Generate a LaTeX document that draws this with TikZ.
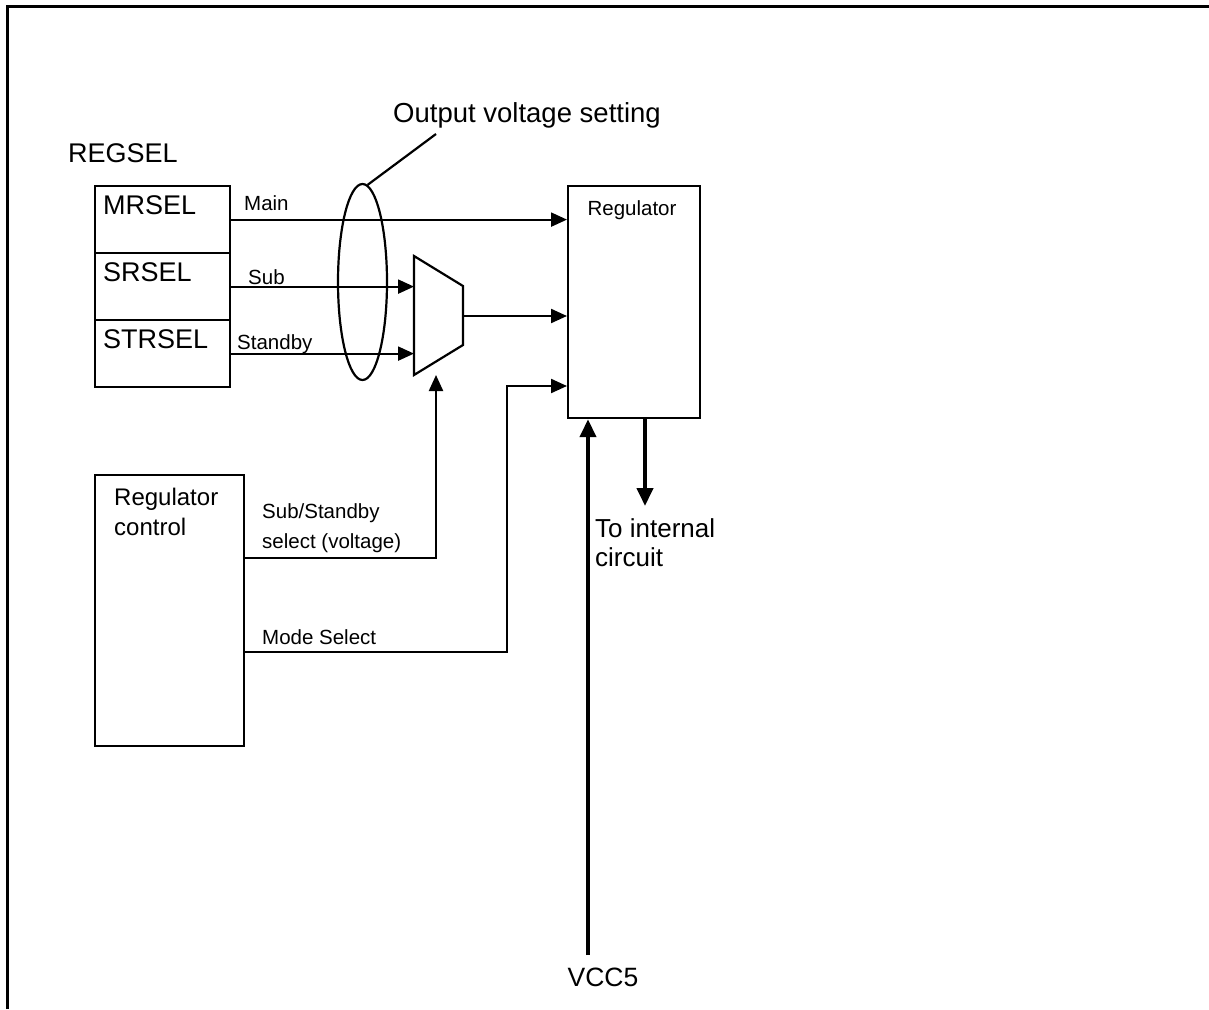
\documentclass[tikz,border=0pt]{standalone}
\usepackage{fontspec}
\setmainfont{Liberation Sans}
\usetikzlibrary{arrows.meta,shapes.geometric}
\begin{document}
\begin{tikzpicture}[x=1pt,y=-1pt,
  box/.style={draw,line width=2.2pt,inner sep=0pt,minimum width=#1},
  arr/.style={line width=2.2pt,-{Triangle[length=16pt,width=14pt]}},
  thickarr/.style={line width=4pt,-{Triangle[length=18pt,width=16pt]}},
  wire/.style={line width=2.2pt},
  big/.style={font=\fontsize{27}{31}\selectfont,inner sep=0pt},
  mid/.style={font=\fontsize{24}{30}\selectfont,inner sep=0pt},
  small/.style={font=\fontsize{20.5}{30}\selectfont,inner sep=0pt}]
\useasboundingbox[fill=white] (0,0) rectangle (1209,1009);
% frame
\draw[line width=3pt] (7,1009) -- (7,6) -- (1209,6);
% REGSEL block
\node[big,anchor=base west] (regsel) at (68,162) {REGSEL};
\node[box=135pt,minimum height=67pt,anchor=north west] (mrsel) at (94,185) {};
\node[box=135pt,minimum height=67pt,anchor=north west] (srsel) at (94,252) {};
\node[box=135pt,minimum height=67pt,anchor=north west] (strsel) at (94,319) {};
\node[big,anchor=base west] (tm) at (103,214) {MRSEL};
\node[big,anchor=base west] (ts) at (103,281) {SRSEL};
\node[big,anchor=base west] (tst) at (103,348) {STRSEL};
% Regulator
\node[box=132pt,minimum height=232pt,anchor=north west] (reg) at (567,185) {};
\node[small,anchor=base] (regt) at (632,215) {Regulator};
% Mux
\coordinate (m1) at (414,256);
\coordinate (m2) at (463,286);
\coordinate (m3) at (463,345);
\coordinate (m4) at (414,375);
\draw[wire,line join=miter] (m1) -- (m2) -- (m3) -- (m4) -- cycle;
\coordinate (msub) at (414,286);
\coordinate (mstb) at (414,352);
\coordinate (mout) at (463,316);
\coordinate (mbot) at (436,375);
% arrows from REGSEL
\draw[arr] (mrsel.east) -- (mrsel.east -| reg.west);
\draw[arr] (srsel.east) -- (srsel.east -| msub);
\draw[arr] (strsel.east) -- (strsel.east -| mstb);
\draw[arr] (mout) -- (mout -| reg.west);
\node[small,anchor=base west] (lmain) at (244,210) {Main};
\node[small,anchor=base west] (lsub) at (248,284) {Sub};
\node[small,anchor=base west] (lstb) at (237,349) {Standby};
% ellipse and leader
\node[draw,wire,ellipse,minimum width=49pt,minimum height=196pt,inner sep=0pt] (ell) at (362.5,282) {};
\coordinate (lead) at (436,134);
\draw[wire] (ell.87) -- (lead);
\node[font=\fontsize{27.5}{31}\selectfont,inner sep=0pt,anchor=base] (ovs) at (527,122) {Output voltage setting};
% Regulator control
\node[box=149pt,minimum height=271pt,anchor=north west] (rc) at (94,474) {};
\node[mid,anchor=base west,align=left] (rct) at (114,535) {Regulator\\control};
\coordinate (c1) at (243,558);
\coordinate (c2) at (243,652);
\coordinate (k1) at (507,652);
\coordinate (k2) at (507,386);
\draw[arr] (c1) -- (c1 -| mbot) -- (mbot);
\draw[arr] (c2) -- (k1) -- (k2) -- (k2 -| reg.west);
\node[small,anchor=base west,align=left] (lsel) at (262,548) {Sub/Standby\\select (voltage)};
\node[small,anchor=base west] (lmode) at (262,644) {Mode Select};
% VCC5 and output
\node[font=\fontsize{26.5}{31}\selectfont,inner sep=0pt,anchor=base] (vcc) at (603,986) {VCC5};
\coordinate (vtop) at (588,955);
\draw[thickarr] (vtop) -- (vtop |- reg.south);
\coordinate (oout) at (645,506);
\draw[thickarr] (oout |- reg.south) -- (oout);
\node[font=\fontsize{26}{29}\selectfont,inner sep=0pt,anchor=base west,align=left] (tic) at (595,566) {To internal\\circuit};
\end{tikzpicture}
\end{document}
